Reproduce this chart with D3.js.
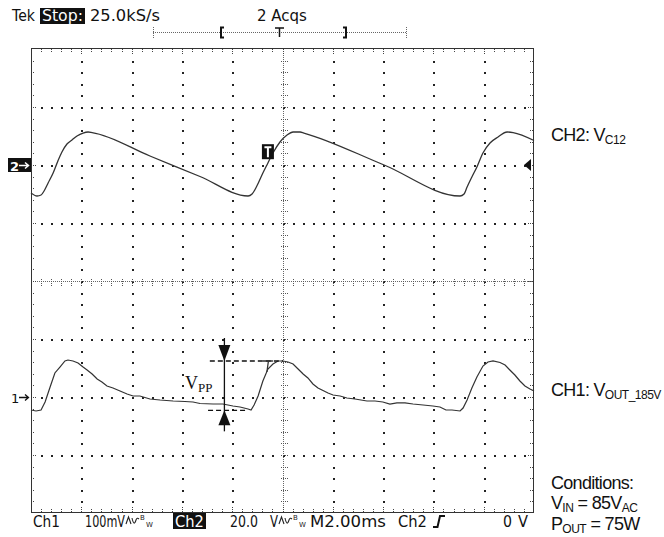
<!DOCTYPE html>
<html><head><meta charset="utf-8">
<script src="https://cdn.jsdelivr.net/npm/d3@7"></script>
<style>
html,body{margin:0;padding:0;background:#fff;}
svg{display:block;}
</style></head>
<body>
<svg id="scope" width="664" height="537"></svg>
<script>
// CH2 (V_C12): time in ms relative to screen centre, 20 V/div
const ch2Time  = [-10.00,-9.76,-9.60,-9.48,-9.32,-9.12,-8.93,-8.77,-8.57,-8.37,-8.17,-7.93,-7.73,-7.57,
                  -5.27,-3.28,-1.37,-1.21,-1.02,-0.78,-0.58,-0.38,-0.10,0.18,0.42,0.70,0.85,
                  4.04,7.06,7.22,7.34,7.53,7.73,7.97,8.25,8.57,8.93,9.17,10.00];
const ch2Volts = [-9.66,-10.69,-10.34,-8.97,-6.21,-2.76,1.38,4.48,7.24,8.62,10.00,11.03,11.38,11.20,
                  3.10,-3.97,-10.69,-10.00,-7.24,-2.76,0.69,4.14,7.93,10.34,11.38,11.38,11.03,
                  0.00,-10.69,-10.00,-7.59,-4.14,-0.69,4.14,7.59,9.66,11.38,11.20,8.45];

// CH1 (V_OUT ripple): time in ms, 100 mV/div
const ch1Time = [-10.00,-9.80,-9.60,-9.44,-9.24,-9.05,-8.85,-8.65,-8.53,-8.33,-8.13,-7.93,-7.77,-7.57,
                 -7.37,-7.18,-6.98,-6.74,-6.46,-6.18,-5.94,-5.67,-5.27,-4.87,-4.35,-3.88,-3.56,-3.28,
                 -2.76,-2.37,-1.97,-1.69,-1.37,-1.25,-1.13,-0.97,-0.78,-0.58,-0.38,-0.18,0.02,0.22,
                 0.42,0.62,0.82,1.01,1.21,1.41,1.57,1.81,2.01,2.29,2.56,2.88,3.36,3.68,3.99,4.27,
                 4.55,4.87,5.19,5.59,5.98,6.26,6.50,6.74,7.06,7.18,7.34,7.53,7.73,7.97,8.17,8.37,
                 8.65,8.85,9.04,9.24,9.44,9.64,9.84,10.00];
const ch1MilliVolts = [-22.4,-24.1,-22.4,-8.6,17.2,41.4,51.7,62.1,63.8,62.1,58.6,51.7,46.6,39.7,
                 31.0,25.9,19.0,15.5,10.3,5.2,1.7,1.7,-3.4,-5.2,-6.9,-7.8,-8.6,-11.2,
                 -12.1,-12.1,-15.5,-17.2,-20.7,-22.4,-13.8,1.7,27.6,48.3,56.9,62.1,62.1,60.3,
                 56.9,48.3,39.7,32.8,22.4,15.5,12.1,6.9,3.4,1.7,-1.7,-3.4,-6.9,-6.9,-8.6,-12.1,
                 -10.3,-10.3,-12.1,-13.8,-15.5,-17.2,-22.4,-22.4,-24.1,-19.0,-5.2,15.5,34.5,53.4,60.3,62.1,
                 59.5,55.2,46.6,37.9,27.6,19.0,13.8,10.3];

// Ripple measurement (mV) and where its markers sit (ms)
const vppHigh = 62.1, vppLow = -23.0;
const vppCursorTime = -2.31;
const vppHighSpan = [-2.89, 0.02];
const vppLowSpan  = [-2.96, -1.37];

// Trigger: CH2 rising edge, level 0 V
const trigTime = -0.58, trigLevel = 0;

// Status-bar texts: [text, left x, right x]
const headerTexts = [["Tek",12,35],["25.0kS/s",90,160],["2 Acqs",257,307]];
const statusTexts = [["Ch1",33,60],["100mV",85,125],["20.0",230,258],["V",270,278],
                     ["M2.00ms",310,386],["Ch2",398,427],["0",503,512],["V",518,528]];

const svg = d3.select("#scope");
const L = 31, R = 534, T = 49, B = 513;

const x = d3.scaleLinear().domain([-10, 10]).range([L, R]);        // 2 ms/div, 10 div
const div = d3.scaleLinear().domain([0, 8]).range([T, B]);          // 8 vertical divisions
const y2 = d3.scaleLinear().domain([-120, 40]).range([B, T]);       // CH2 ref at div 2
const y1 = d3.scaleLinear().domain([-200, 600]).range([B, T]);      // CH1 ref at div 6

// ---------- graticule ----------
const g = svg.append("g").attr("shape-rendering", "crispEdges");
const minorX = d3.range(-10, 10.001, 0.4).map(v => +v.toFixed(2));
const minorY = d3.range(0, 8.001, 0.2).map(v => +v.toFixed(2));
const majorX = [-8, -6, -4, -2, 2, 4, 6, 8];
const majorY = [1, 2, 3, 5, 6, 7];
const dotCol = "#222";

majorX.forEach(t => minorY.slice(1, -1).forEach(d => {
  g.append("rect").attr("x", Math.round(x(t))).attr("y", Math.round(div(d)))
    .attr("width", 1.5).attr("height", 1.5).attr("fill", dotCol);
}));
majorY.forEach(d => minorX.slice(1, -1).forEach(t => {
  g.append("rect").attr("x", Math.round(x(t))).attr("y", Math.round(div(d)))
    .attr("width", 1.5).attr("height", 1.5).attr("fill", dotCol);
}));

// centre cross-hair: dotted lines with minor ticks
const cx = Math.round(x(0)) + 0.5, cy = Math.round(div(4)) + 0.5;
g.append("line").attr("x1", cx).attr("x2", cx).attr("y1", T).attr("y2", B)
  .attr("stroke", "#666").attr("stroke-dasharray", "1,1");
g.append("line").attr("x1", L).attr("x2", R).attr("y1", cy).attr("y2", cy)
  .attr("stroke", "#666").attr("stroke-dasharray", "1,1");
minorY.slice(1, -1).forEach(d => {
  const yy = Math.round(div(d)) + 0.5;
  g.append("line").attr("x1", cx - 3).attr("x2", cx + 4).attr("y1", yy).attr("y2", yy)
    .attr("stroke", "#555").attr("stroke-dasharray", "1,1");
});
minorX.slice(1, -1).forEach(t => {
  const xx = Math.round(x(t)) + 0.5;
  g.append("line").attr("x1", xx).attr("x2", xx).attr("y1", cy - 3).attr("y2", cy + 4)
    .attr("stroke", "#555").attr("stroke-dasharray", "1,1");
});

// edge ticks
minorX.slice(1, -1).forEach((t, i) => {
  const xx = Math.round(x(t)) + 0.5;
  const len = (i + 1) % 5 === 0 ? 6 : 4;
  g.append("line").attr("x1", xx).attr("x2", xx).attr("y1", T).attr("y2", T + len)
    .attr("stroke", "#444").attr("stroke-dasharray", "1,1");
  g.append("line").attr("x1", xx).attr("x2", xx).attr("y1", B - len).attr("y2", B)
    .attr("stroke", "#444").attr("stroke-dasharray", "1,1");
});
minorY.slice(1, -1).forEach((d, i) => {
  const yy = Math.round(div(d)) + 0.5;
  const len = (i + 1) % 5 === 0 ? 6 : 4;
  g.append("line").attr("x1", L).attr("x2", L + len).attr("y1", yy).attr("y2", yy)
    .attr("stroke", "#444").attr("stroke-dasharray", "1,1");
  g.append("line").attr("x1", R - len).attr("x2", R).attr("y1", yy).attr("y2", yy)
    .attr("stroke", "#444").attr("stroke-dasharray", "1,1");
});

g.append("rect").attr("x", L + 0.5).attr("y", T - 0.5).attr("width", R - L - 1).attr("height", B - T)
  .attr("fill", "none").attr("stroke", "#333").attr("stroke-width", 1.3);

// ---------- waveforms ----------
const ch2Line = d3.line().x(d => x(d[0])).y(d => y2(d[1])).curve(d3.curveMonotoneX);
const ch1Line = d3.line().x(d => x(d[0])).y(d => y1(d[1])).curve(d3.curveLinear);
svg.append("path").attr("d", ch2Line(d3.zip(ch2Time, ch2Volts)))
  .attr("fill", "none").attr("stroke", "#333").attr("stroke-width", 1.3);
svg.append("path").attr("d", ch1Line(d3.zip(ch1Time, ch1MilliVolts)))
  .attr("fill", "none").attr("stroke", "#333").attr("stroke-width", 1.2);

// trigger point marker on CH2
const tx = x(trigTime), ty = y2(trigLevel + 2);
svg.append("rect").attr("x", tx - 6).attr("y", ty - 15).attr("width", 12).attr("height", 15).attr("fill", "#111");
svg.append("path").attr("d", `M${tx - 3.5},${ty - 12} H${tx + 3.5} M${tx},${ty - 12} V${ty - 2}`)
  .attr("stroke", "#fff").attr("stroke-width", 2).attr("fill", "none");
// trigger level marker, right edge
const tl = y2(trigLevel);
svg.append("path").attr("d", `M${R - 10},${tl} L${R - 3},${tl - 6} L${R - 3},${tl + 6} Z`).attr("fill", "#111");

// channel reference markers
const r2 = y2(0), r1 = y1(0);
svg.append("rect").attr("x", 8).attr("y", r2 - 7).attr("width", 23).attr("height", 14).attr("fill", "#111");
svg.append("text").attr("x", 10).attr("y", r2 + 5.5).attr("fill", "#fff")
  .attr("font-family", "DejaVu Sans").attr("font-weight", "bold").attr("font-size", 13).text("2");
svg.append("path").attr("d", `M19,${r2 + 0.5} H28 M25,${r2 - 2.5} L28.5,${r2 + 0.5} L25,${r2 + 3.5}`)
  .attr("stroke", "#fff").attr("stroke-width", 1.5).attr("fill", "none");
svg.append("text").attr("x", 11).attr("y", r1 + 5.5).attr("fill", "#111")
  .attr("font-family", "DejaVu Sans").attr("font-size", 13).text("1");
svg.append("path").attr("d", `M19,${r1 + 0.5} H28 M25,${r1 - 2.5} L28.5,${r1 + 0.5} L25,${r1 + 3.5}`)
  .attr("stroke", "#111").attr("stroke-width", 1.3).attr("fill", "none");

// ---------- Vpp annotation ----------
const hiY = y1(vppHigh), loY = y1(vppLow), cxV = x(vppCursorTime);
const ann = svg.append("g").attr("stroke", "#111").attr("fill", "none");
ann.append("line").attr("x1", x(vppHighSpan[0])).attr("x2", x(vppHighSpan[1])).attr("y1", hiY).attr("y2", hiY)
  .attr("stroke-width", 1.3).attr("stroke-dasharray", "5,3");
ann.append("line").attr("x1", x(vppLowSpan[0])).attr("x2", x(vppLowSpan[1])).attr("y1", loY).attr("y2", loY)
  .attr("stroke-width", 1.3).attr("stroke-dasharray", "5,3");
ann.append("line").attr("x1", cxV).attr("x2", cxV).attr("y1", hiY - 23).attr("y2", loY + 21).attr("stroke-width", 1.3);
svg.append("path").attr("d", `M${cxV - 6},${hiY - 16} L${cxV + 6},${hiY - 16} L${cxV},${hiY} Z`).attr("fill", "#111");
svg.append("path").attr("d", `M${cxV - 6},${loY + 15} L${cxV + 6},${loY + 15} L${cxV},${loY} Z`).attr("fill", "#111");
// small trigger "T" on the CH1 trace
svg.append("path").attr("d", `M${x(-0.78)},${hiY} H${x(-0.38)} M${x(-0.56)},${hiY} L${x(-0.62)},${hiY + 11}`)
  .attr("stroke", "#333").attr("stroke-width", 1.3).attr("fill", "none");
const vpp = svg.append("text").attr("x", 185).attr("y", 389).attr("font-family", "Liberation Serif").attr("fill", "#111");
vpp.append("tspan").attr("font-size", 18).text("V");
vpp.append("tspan").attr("font-size", 13).attr("dy", 3).text("PP");

// ---------- scope UI text (narrow instrument font) ----------
const ui = "DejaVu Sans";
// draws text starting at x0 and squeezes it horizontally to end at x1
function uiText(s, x0, x1, yBase, size, fill) {
  const t = svg.append("text").attr("x", 0).attr("y", 0).attr("font-family", ui)
    .attr("font-size", size).attr("fill", fill).text(s);
  const w = t.node().getComputedTextLength();
  t.attr("transform", `translate(${x0},${yBase}) scale(${(x1 - x0) / w},1)`);
  return t;
}

headerTexts.forEach(([s, a, b]) => uiText(s, a, b, 21, 15.5, "#111"));
svg.append("rect").attr("x", 40).attr("y", 8).attr("width", 45).attr("height", 16).attr("fill", "#111");
uiText("Stop:", 42, 83, 21, 15.5, "#fff");

// record-length bar
const rb = svg.append("g").attr("fill", "none");
rb.append("line").attr("x1", 153).attr("x2", 407).attr("y1", 32.5).attr("y2", 32.5)
  .attr("stroke", "#666").attr("stroke-dasharray", "1,1");
[153.5, 406.5].forEach(xx => rb.append("line").attr("x1", xx).attr("x2", xx).attr("y1", 27).attr("y2", 38)
  .attr("stroke", "#666").attr("stroke-dasharray", "1,1"));
rb.append("path").attr("d", "M224,27.5 H221 V37.5 H224").attr("stroke", "#111").attr("stroke-width", 2);
rb.append("path").attr("d", "M343,27.5 H346 V37.5 H343").attr("stroke", "#111").attr("stroke-width", 2);
rb.append("path").attr("d", "M275,28 H284 M279.5,28 V37").attr("stroke", "#111").attr("stroke-width", 1.5);

// ---------- status bar ----------
statusTexts.forEach(([s, a, b]) => uiText(s, a, b, 527, 16.5, "#111"));
svg.append("rect").attr("x", 173).attr("y", 513).attr("width", 33).attr("height", 16).attr("fill", "#111");
uiText("Ch2", 175, 204, 527, 16.5, "#fff");
// bandwidth-limit glyphs
[125, 278].forEach(bx => {
  svg.append("path").attr("d", `M${bx + 1},${524} L${bx + 3.5},${517} L${bx + 6},${524} M${bx + 7},${518} Q${bx + 9},${527} ${bx + 11},${520} Q${bx + 12},${517} ${bx + 14},${519}`)
    .attr("stroke", "#222").attr("stroke-width", 1.1).attr("fill", "none");
  svg.append("text").attr("x", bx + 15).attr("y", 520).attr("font-family", ui).attr("font-size", 7).attr("fill", "#222").text("B");
  svg.append("text").attr("x", bx + 21).attr("y", 527).attr("font-family", ui).attr("font-size", 7).attr("fill", "#222").text("W");
});
// rising-edge trigger slope glyph
svg.append("path").attr("d", "M433,527 H437.5 L440,516 H445").attr("stroke", "#111").attr("stroke-width", 2).attr("fill", "none");

// ---------- channel captions and conditions ----------
// parts: [text, kind] where kind 1 = subscript, -1 = back to baseline, 0 = normal
const cap = (yy, parts) => {
  const t = svg.append("text").attr("x", 551).attr("y", yy).attr("font-family", "Liberation Sans")
    .attr("font-size", 18).attr("letter-spacing", -0.7).attr("fill", "#111");
  parts.forEach(([s, kind]) => {
    t.append("tspan").attr("font-size", kind === 1 ? 12 : 18)
      .attr("dy", kind === 1 ? 3 : kind === -1 ? -3 : 0)
      .attr("letter-spacing", kind === 1 ? -0.5 : -0.7).text(s);
  });
};
cap(141, [["CH2: V", 0], ["C12", 1]]);
cap(396, [["CH1: V", 0], ["OUT_185V", 1]]);
cap(489, [["Conditions:", 0]]);
cap(509, [["V", 0], ["IN", 1], [" = 85V", -1], ["AC", 1]]);
cap(530, [["P", 0], ["OUT", 1], [" = 75W", -1]]);
</script>
</body></html>
